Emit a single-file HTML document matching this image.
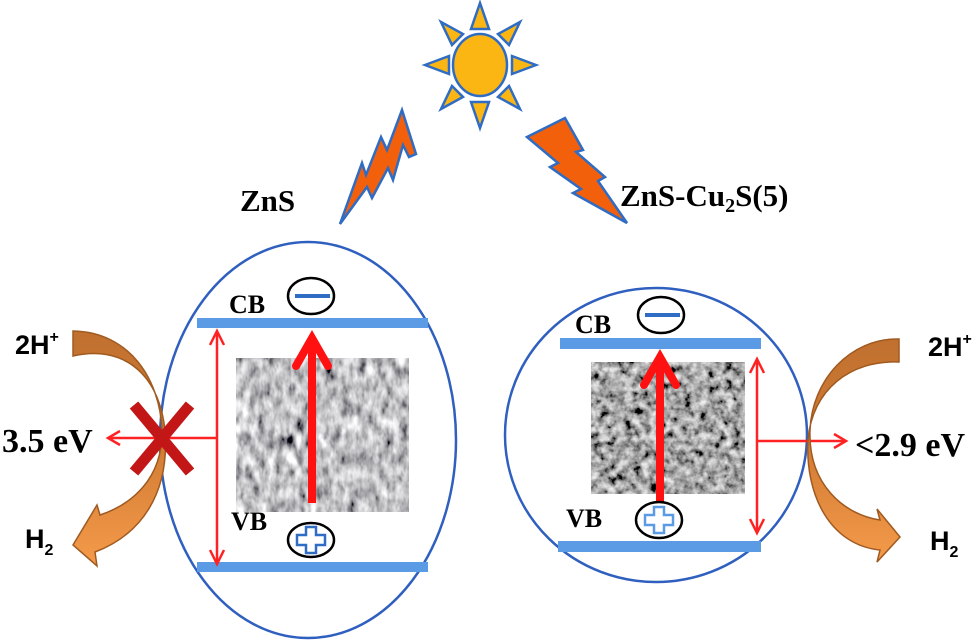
<!DOCTYPE html>
<html><head><meta charset="utf-8"><style>
body{margin:0;background:#fff;}
svg{display:block}
.t{font-family:"Liberation Serif",serif;font-weight:bold;fill:#000}
.s{font-family:"Liberation Sans",sans-serif;font-weight:bold;fill:#000}
</style></head><body>
<svg width="980" height="643" viewBox="0 0 980 643" xmlns="http://www.w3.org/2000/svg">
<defs>
<filter id="sem1" x="0" y="0" width="100%" height="100%">
<feTurbulence type="fractalNoise" baseFrequency="0.12 0.06" numOctaves="3" seed="3"/>
<feColorMatrix type="matrix" values="0.33 0.33 0.33 0 0  0.33 0.33 0.33 0 0  0.33 0.33 0.33 0 0  0 0 0 0 1"/>
<feComponentTransfer><feFuncR type="linear" slope="2.6" intercept="-0.75"/><feFuncG type="linear" slope="2.6" intercept="-0.75"/><feFuncB type="linear" slope="2.6" intercept="-0.73"/></feComponentTransfer>
</filter>
<filter id="sem2" x="0" y="0" width="100%" height="100%">
<feTurbulence type="fractalNoise" baseFrequency="0.12" numOctaves="3" seed="8"/>
<feColorMatrix type="matrix" values="0.33 0.33 0.33 0 0  0.33 0.33 0.33 0 0  0.33 0.33 0.33 0 0  0 0 0 0 1"/>
<feComponentTransfer><feFuncR type="linear" slope="2.6" intercept="-0.9"/><feFuncG type="linear" slope="2.6" intercept="-0.9"/><feFuncB type="linear" slope="2.6" intercept="-0.9"/></feComponentTransfer>
</filter>
<linearGradient id="og" x1="0" y1="0" x2="0" y2="1"><stop offset="0" stop-color="#c0702f"/><stop offset="0.5" stop-color="#d27d35"/><stop offset="1" stop-color="#f59a4a"/></linearGradient>
</defs>

<!-- sun -->
<g stroke="#2f6cc4" stroke-width="2.5" fill="#fbb614">
<ellipse cx="480" cy="65" rx="27" ry="31"/>
<polygon points="480,3 471,29 489,29"/>
<polygon points="480,128 471,102 489,102"/>
<polygon points="425,65 449,56 449,74"/>
<polygon points="536,65 512,56 512,74"/>
<polygon points="441,22 463,34 452,45"/>
<polygon points="520,22 498,34 509,45"/>
<polygon points="441,109 452,86 463,97"/>
<polygon points="520,109 509,86 498,97"/>
</g>
<!-- bolts -->
<g stroke="#2f6cc4" stroke-width="2.5" fill="#f2600c" stroke-linejoin="miter">
<polygon points="340,224 362,163 366,175 381,137 387,150 402,110 416,154 409,157 403,145 393,180 388,168 372,198 367,187"/>
<polygon points="527,137 565,118 583,150 576,152 605,177 598,181 627,223 573,193 581,189 550,167 558,163"/>
</g>

<text class="t" x="240" y="211" font-size="31">ZnS</text>
<text class="t" x="620" y="206" font-size="31">ZnS-Cu<tspan font-size="20" dy="6">2</tspan><tspan dy="-6">S(5)</tspan></text>

<!-- left ellipse -->
<ellipse cx="308" cy="440" rx="148" ry="198" fill="none" stroke="#2f5fbf" stroke-width="2.5"/>
<rect x="236" y="358" width="173" height="154" fill="#777"/>
<rect x="236" y="358" width="173" height="154" filter="url(#sem1)"/>
<rect x="197" y="318" width="231" height="10" fill="#5b9be6"/>
<rect x="197" y="562" width="231" height="10" fill="#5b9be6"/>
<text class="t" x="229" y="313" font-size="26">CB</text>
<text class="t" x="231" y="530" font-size="26">VB</text>
<ellipse cx="311" cy="296" rx="23" ry="18" fill="#fff" stroke="#000" stroke-width="2.5"/>
<rect x="295" y="294" width="35" height="4" fill="#2f6cc4"/>
<ellipse cx="311" cy="540" rx="23" ry="17" fill="#fff" stroke="#000" stroke-width="2.5"/>
<path d="M306,527h10v8h9v10h-9v8h-10v-8h-9v-10h9z" fill="#fff" stroke="#2f6cc4" stroke-width="2.5"/>
<line x1="312" y1="503" x2="312" y2="345" stroke="#f11" stroke-width="8"/>
<polyline points="296,366 312,338 328,366" fill="none" stroke="#f11" stroke-width="8" stroke-linecap="round"/>
<g stroke="#f22" stroke-width="2.5" fill="none">
<line x1="217" y1="332" x2="217" y2="563"/>
<polyline points="210,345 217,331 224,345"/>
<polyline points="210,550 217,564 224,550"/>
<line x1="217" y1="438" x2="108" y2="438"/>
<polyline points="120,431 108,438 120,445"/>
</g>
<path d="M73,331 C130,332 160,380 162,430 C163,480 130,505 100,515 L97,505 L73,545 L97,566 L95,552 C140,535 170,495 165,430 C158,370 120,345 73,356 Z" fill="url(#og)" stroke="#a05a20" stroke-width="1.5"/>
<g stroke="#c31616" stroke-width="11">
<line x1="134" y1="405" x2="190" y2="472"/>
<line x1="190" y1="405" x2="134" y2="472"/>
</g>
<text class="t" x="2" y="452" font-size="34">3.5 eV</text>
<text class="s" x="15" y="354" font-size="27">2H<tspan font-size="16" dy="-12">+</tspan></text>
<text class="s" x="25" y="548" font-size="27">H<tspan font-size="16" dy="7">2</tspan></text>

<!-- right circle -->
<ellipse cx="656" cy="435" rx="151" ry="147" fill="none" stroke="#2f5fbf" stroke-width="2.5"/>
<rect x="591" y="362" width="154" height="132" fill="#555"/>
<rect x="591" y="362" width="154" height="132" filter="url(#sem2)"/>
<rect x="560" y="338" width="201" height="11" fill="#5b9be6"/>
<rect x="558" y="541" width="203" height="11" fill="#5b9be6"/>
<text class="t" x="575" y="333" font-size="26">CB</text>
<text class="t" x="566" y="527" font-size="26">VB</text>
<ellipse cx="661" cy="315" rx="23" ry="18" fill="#fff" stroke="#000" stroke-width="2.5"/>
<rect x="645" y="313" width="35" height="4" fill="#2f6cc4"/>
<line x1="660" y1="503" x2="660" y2="364" stroke="#f11" stroke-width="8"/>
<polyline points="644,385 660,357 676,385" fill="none" stroke="#f11" stroke-width="8" stroke-linecap="round"/>
<ellipse cx="659" cy="520" rx="23" ry="18" fill="#fff" stroke="#000" stroke-width="2.5"/>
<path d="M654,507h10v8h9v10h-9v8h-10v-8h-9v-10h9z" fill="#fff" stroke="#5b9be6" stroke-width="2.5"/>
<g stroke="#f22" stroke-width="2.5" fill="none">
<line x1="757" y1="360" x2="757" y2="532"/>
<polyline points="750,373 757,359 764,373"/>
<polyline points="750,519 757,533 764,519"/>
<line x1="757" y1="441" x2="846" y2="441"/>
<polyline points="834,434 846,441 834,448"/>
</g>
<path d="M899,339 C850,338 812,380 810,430 C808,485 845,515 880,520 L877,509 L900,537 L877,562 L880,550 C830,545 805,495 808,440 C812,390 850,360 899,362 Z" fill="url(#og)" stroke="#a05a20" stroke-width="1.5"/>
<text class="t" x="855" y="456" font-size="34">&lt;2.9 eV</text>
<text class="s" x="928" y="356" font-size="27">2H<tspan font-size="16" dy="-12">+</tspan></text>
<text class="s" x="930" y="550" font-size="27">H<tspan font-size="16" dy="7">2</tspan></text>
</svg>
</body></html>
